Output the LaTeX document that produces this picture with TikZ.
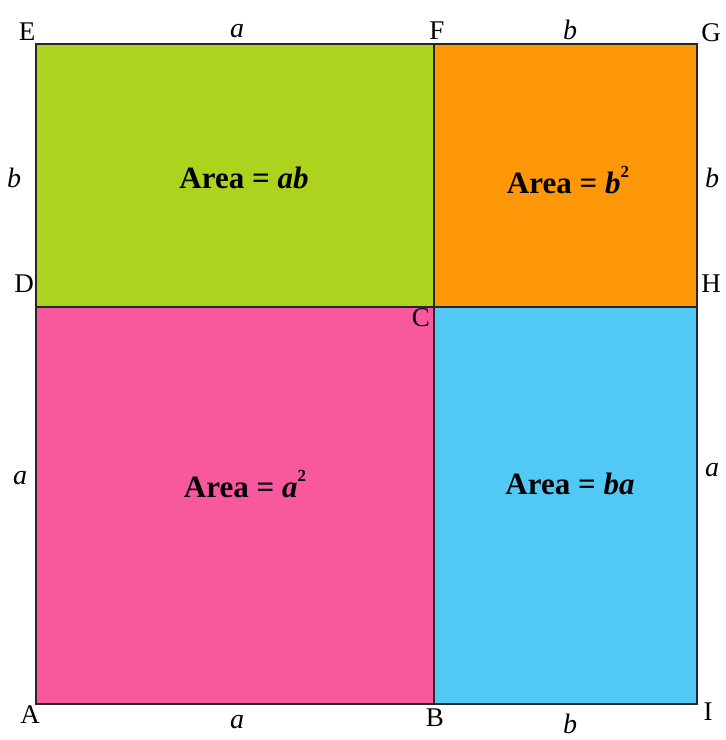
\documentclass[tikz,border=0pt]{standalone}
\usepackage{fontspec}
\setmainfont{Liberation Serif}
\definecolor{cgreen}{RGB}{173,211,30}
\definecolor{corange}{RGB}{255,152,8}
\definecolor{cpink}{RGB}{247,88,158}
\definecolor{cblue}{RGB}{82,200,245}
\newcommand{\smallsup}[1]{\raisebox{0.5em}{\fontsize{17}{18}\selectfont #1}}
\begin{document}
\begin{tikzpicture}[x=1pt,y=-1pt,
  pt/.style={font=\fontsize{27}{29}\selectfont, inner sep=0pt},
  side/.style={font=\fontsize{28}{30}\selectfont\itshape, inner sep=0pt},
  area/.style={font=\fontsize{31}{33}\selectfont\bfseries, inner sep=0pt},
  edge/.style={draw=black!85, line width=2pt}]
\useasboundingbox (0,0) rectangle (726,740);
\coordinate (A) at (36,704);
\coordinate (B) at (434,704);
\coordinate (I) at (697,704);
\coordinate (D) at (36,307);
\coordinate (C) at (434,307);
\coordinate (H) at (697,307);
\coordinate (E) at (36,44);
\coordinate (F) at (434,44);
\coordinate (G) at (697,44);
% fills
\fill[cgreen] (D) rectangle (F);
\fill[corange] (C) rectangle (G);
\fill[cpink] (A) rectangle (C);
\fill[cblue] (B) rectangle (H);
% outline
\draw[edge] (A) -- (I) -- (G) -- (E) -- cycle;
\draw[edge] (F) -- (B);
\draw[edge] (D) -- (H);
% corner labels
\node[pt] (lE) at (27,32) {E};
\node[pt] (lF) at (437,31) {F};
\node[pt] (lG) at (711,33) {G};
\node[pt] (lD) at (24,284) {D};
\node[pt] (lC) at (421,318) {C};
\node[pt] (lH) at (711,284) {H};
\node[pt] (lA) at (30,715) {A};
\node[pt] (lB) at (435,718) {B};
\node[pt] (lI) at (708,712) {I};
% side labels
\node[side] (sa1) at (237,31) {a};
\node[side] (sb1) at (570,30) {b};
\node[side] (sb2) at (14,178) {b};
\node[side] (sb3) at (712,178) {b};
\node[side] (sa2) at (20,478) {a};
\node[side] (sa3) at (712,470) {a};
\node[side] (sa4) at (237,722) {a};
\node[side] (sb4) at (570,724) {b};
% area labels
\node[area] (ab) at (244,178) {Area = \textit{ab}};
\node[area] (bb) at (568,180) {Area = \textit{b}\smallsup{2}};
\node[area] (aa) at (245,484) {Area = \textit{a}\smallsup{2}};
\node[area] (ba) at (570,484) {Area = \textit{ba}};
\end{tikzpicture}
\end{document}
